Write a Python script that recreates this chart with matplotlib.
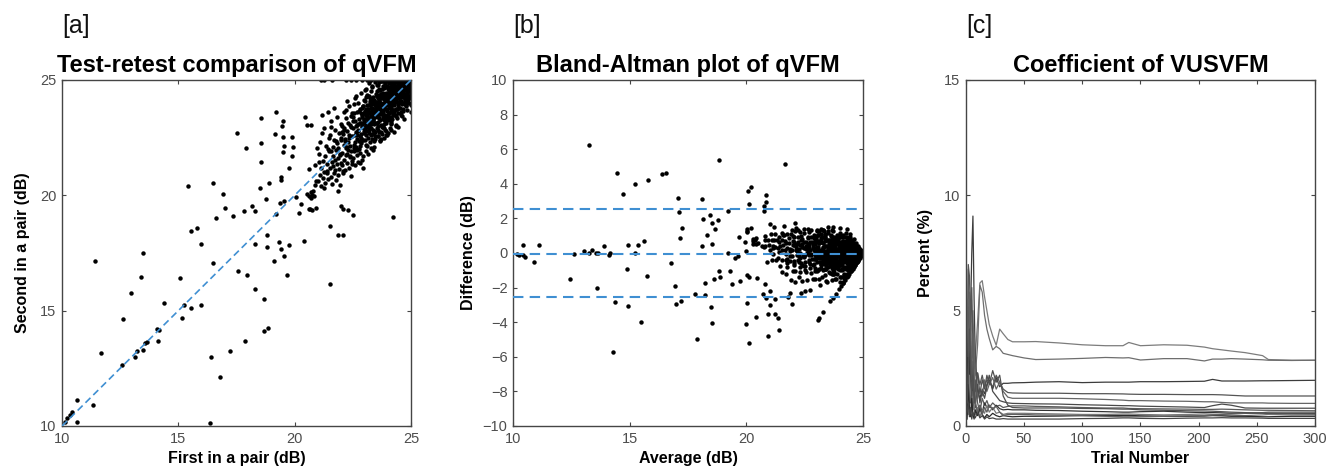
import matplotlib
matplotlib.use("Agg")
import matplotlib.pyplot as plt
import numpy as np

plt.rcParams['font.family'] = ['Liberation Sans', 'DejaVu Sans']

# ---------------- Panel a/b data: (first, second) test-retest pairs in dB ----------------
outlier_first = [
    10.63, 11.35, 11.42, 11.66, 10.63, 10.2, 10.34, 10.13, 10.41, 12.61,
    12.59, 12.95, 13.12, 13.24, 13.38, 13.5, 13.5, 13.57, 13.64, 14.07,
    14.18, 14.11, 14.4, 15.07, 15.14, 15.24, 15.4, 15.56, 15.53, 15.82,
    15.97, 15.97, 16.35, 16.4, 16.48, 16.5, 16.63, 16.77, 16.93, 17.02,
    17.21, 17.36, 17.5, 17.56, 17.87, 17.91, 17.84, 17.95, 18.18, 18.28,
    18.31, 18.31, 18.5, 18.54, 18.57, 18.55, 18.68, 18.68, 18.87, 18.78,
    18.81, 18.81, 18.91, 19.11, 19.15, 19.18, 19.21, 19.34, 19.37, 19.41,
    19.46, 19.48, 19.51, 19.53, 19.51, 19.54, 19.56, 19.43, 19.41, 19.68,
    19.74, 19.74, 19.9, 19.9, 19.94, 20.06, 20.17, 20.27, 20.42, 20.46,
    20.52, 20.63, 20.73, 21.52, 21.52, 21.85, 22.09, 21.99, 22.09, 22.31,
    22.52, 24.21]
outlier_second = [
    11.13, 10.91, 17.15, 13.18, 10.19, 10.33, 10.48, 10.19, 10.62, 14.62,
    12.64, 15.78, 12.98, 13.27, 16.45, 17.49, 13.3, 13.58, 13.66, 14.19,
    14.16, 13.7, 15.35, 16.4, 14.67, 15.25, 20.4, 15.12, 18.47, 18.57,
    15.25, 17.89, 10.12, 13.0, 17.05, 20.55, 19.0, 12.14, 20.04, 19.44,
    13.25, 19.12, 22.69, 16.72, 13.68, 22.04, 19.34, 16.53, 19.55, 19.34,
    17.88, 15.92, 20.3, 23.34, 22.25, 21.46, 15.49, 14.12, 14.26, 19.84,
    17.77, 18.28, 20.52, 17.14, 22.66, 23.63, 19.19, 17.96, 19.65, 17.67,
    23.0, 23.24, 22.54, 22.14, 21.89, 17.37, 19.74, 20.81, 20.66, 16.55,
    17.85, 21.17, 21.7, 22.54, 22.11, 19.94, 19.22, 19.62, 18.0, 23.41,
    23.05, 19.39, 19.36, 18.67, 16.16, 18.28, 18.28, 19.54, 19.39, 19.36,
    19.15, 19.08]

cluster_first = [
    # 20.5 - 21.0
    20.55, 20.62, 20.68, 20.71, 20.75, 20.8, 20.84, 20.88, 20.93, 20.97,
    20.6, 20.72, 20.86, 20.9, 20.66,
    # 21.0 - 21.5
    21.02, 21.05, 21.08, 21.1, 21.12, 21.15, 21.18, 21.2, 21.22, 21.25,
    21.27, 21.3, 21.32, 21.35, 21.37, 21.4, 21.42, 21.45, 21.47, 21.49,
    21.06, 21.16, 21.28, 21.38, 21.44,
    # 21.5 - 22.0
    21.51, 21.53, 21.55, 21.57, 21.58, 21.6, 21.62, 21.63, 21.65, 21.67,
    21.68, 21.7, 21.72, 21.73, 21.75, 21.77, 21.78, 21.8, 21.82, 21.83,
    21.85, 21.87, 21.88, 21.9, 21.92, 21.93, 21.95, 21.97, 21.98, 21.99,
    21.56, 21.66, 21.76, 21.86, 21.96,
    # 22.0 - 22.5
    22.01, 22.02, 22.04, 22.05, 22.07, 22.08, 22.1, 22.11, 22.13, 22.14,
    22.16, 22.17, 22.19, 22.2, 22.22, 22.23, 22.25, 22.26, 22.28, 22.29,
    22.31, 22.32, 22.34, 22.35, 22.37, 22.38, 22.4, 22.41, 22.43, 22.44,
    22.46, 22.47, 22.49, 22.03, 22.09, 22.15, 22.21, 22.27, 22.33, 22.39,
    22.45, 22.12, 22.24, 22.36, 22.48,
    # 22.5 - 23.0
    22.5, 22.51, 22.52, 22.54, 22.55, 22.56, 22.58, 22.59, 22.6, 22.62,
    22.63, 22.64, 22.66, 22.67, 22.68, 22.7, 22.71, 22.72, 22.74, 22.75,
    22.76, 22.78, 22.79, 22.8, 22.82, 22.83, 22.84, 22.86, 22.87, 22.88,
    22.9, 22.91, 22.92, 22.94, 22.95, 22.96, 22.98, 22.99, 22.53, 22.57,
    22.61, 22.65, 22.69, 22.73, 22.77, 22.81, 22.85, 22.89, 22.93, 22.97,
    22.58, 22.66, 22.74, 22.82, 22.9,
    # 23.0 - 23.5
    23.0, 23.01, 23.02, 23.03, 23.04, 23.05, 23.06, 23.07, 23.08, 23.09,
    23.1, 23.11, 23.12, 23.13, 23.14, 23.15, 23.16, 23.17, 23.18, 23.19,
    23.2, 23.21, 23.22, 23.23, 23.24, 23.25, 23.26, 23.27, 23.28, 23.29,
    23.3, 23.31, 23.32, 23.33, 23.34, 23.35, 23.36, 23.37, 23.38, 23.39,
    23.4, 23.41, 23.42, 23.43, 23.44, 23.45, 23.46, 23.47, 23.48, 23.49,
    23.02, 23.06, 23.1, 23.14, 23.18, 23.22, 23.26, 23.3, 23.34, 23.38,
    23.42, 23.46, 23.04, 23.12, 23.2, 23.28, 23.36, 23.44, 23.08, 23.24,
    # 23.5 - 24.0
    23.51, 23.52, 23.54, 23.55, 23.56, 23.58, 23.59, 23.6, 23.62, 23.63,
    23.64, 23.66, 23.67, 23.68, 23.7, 23.71, 23.72, 23.74, 23.75, 23.76,
    23.78, 23.79, 23.8, 23.82, 23.83, 23.84, 23.86, 23.87, 23.88, 23.9,
    23.91, 23.92, 23.94, 23.95, 23.96, 23.98, 23.99, 23.5, 23.53, 23.57,
    23.61, 23.65, 23.69, 23.73, 23.77, 23.81, 23.85, 23.89, 23.93, 23.97,
    23.52, 23.56, 23.6, 23.64, 23.68, 23.72, 23.76, 23.8, 23.84, 23.88,
    23.92, 23.96, 23.54, 23.62, 23.7, 23.78, 23.86, 23.94, 23.58, 23.66,
    23.74, 23.82, 23.9, 23.98, 23.55, 23.71, 23.87, 23.63, 23.79, 23.95,
    # 24.0 - 24.5
    24.01, 24.02, 24.04, 24.05, 24.06, 24.08, 24.09, 24.1, 24.12, 24.13,
    24.14, 24.16, 24.17, 24.18, 24.2, 24.21, 24.22, 24.24, 24.25, 24.26,
    24.28, 24.29, 24.3, 24.32, 24.33, 24.34, 24.36, 24.37, 24.38, 24.4,
    24.41, 24.42, 24.44, 24.45, 24.46, 24.48, 24.49, 24.0, 24.03, 24.07,
    24.11, 24.15, 24.19, 24.23, 24.27, 24.31, 24.35, 24.39, 24.43, 24.47,
    24.02, 24.06, 24.1, 24.14, 24.18, 24.22, 24.26, 24.3, 24.34, 24.38,
    24.42, 24.46, 24.04, 24.12, 24.2, 24.28, 24.36, 24.44, 24.08, 24.16,
    24.24, 24.32, 24.4, 24.48, 24.05, 24.21, 24.37, 24.13, 24.29, 24.45,
    # 24.5 - 25.0
    24.51, 24.52, 24.54, 24.55, 24.56, 24.58, 24.59, 24.6, 24.62, 24.63,
    24.64, 24.66, 24.67, 24.68, 24.7, 24.71, 24.72, 24.74, 24.75, 24.76,
    24.78, 24.79, 24.8, 24.82, 24.83, 24.84, 24.86, 24.87, 24.88, 24.9,
    24.5, 24.53, 24.57, 24.61, 24.65, 24.69, 24.73, 24.77, 24.81, 24.85,
    24.89, 24.92, 24.55, 24.63, 24.71, 24.79, 24.87, 24.94, 24.58, 24.66,
    24.74, 24.82, 24.9, 24.97, 24.6, 24.76, 24.84, 24.68, 24.52, 24.99]
cluster_second = [
    20.05, 19.95, 20.15, 19.88, 20.02, 20.2, 19.98, 21.3, 20.6, 22.05,
    21.15, 23.05, 20.45, 19.45, 19.4,
    20.6, 21.8, 20.9, 22.3, 21.2, 20.4, 23.5, 21.5, 20.75, 22.9,
    21.0, 20.55, 21.7, 22.15, 20.95, 21.35, 23.6, 20.7, 22.5, 21.9,
    21.45, 22.7, 20.3, 21.05, 22.0,
    21.2, 22.6, 20.8, 21.9, 23.2, 21.45, 20.5, 22.1, 21.7, 23.8,
    20.95, 22.4, 21.1, 21.55, 22.85, 20.65, 21.95, 22.25, 21.35, 23.4,
    20.9, 22.05, 21.6, 22.7, 21.15, 21.8, 20.45, 22.5, 23.1, 21.4,
    22.95, 21.25, 22.35, 20.2, 21.75,
    22.4, 21.3, 23.0, 21.85, 22.65, 20.95, 22.2, 23.6, 21.55, 22.9,
    21.1, 22.45, 23.35, 21.75, 22.05, 24.1, 21.4, 22.8, 21.95, 23.15,
    22.3, 21.2, 22.6, 23.85, 21.65, 22.15, 20.85, 22.95, 23.45, 21.9,
    22.55, 21.5, 23.2, 22.75, 21.05, 22.35, 23.7, 21.8, 22.5, 23.05,
    21.35, 22.85, 22.1, 21.7, 23.55,
    22.9, 21.6, 23.4, 22.2, 23.95, 21.9, 22.6, 23.2, 21.3, 22.75,
    24.3, 22.1, 23.6, 21.75, 22.45, 23.05, 22.85, 21.45, 24.0, 22.35,
    23.3, 22.0, 23.75, 22.55, 21.85, 23.15, 22.65, 24.45, 22.25, 23.5,
    21.55, 22.95, 23.85, 22.4, 21.2, 23.25, 22.7, 24.15, 22.05, 23.55,
    22.3, 23.0, 21.95, 22.8, 23.65, 22.15, 22.5, 23.4, 21.7, 22.9,
    24.2, 22.6, 23.1, 21.4, 23.8,
    23.3, 22.4, 24.1, 22.85, 23.6, 21.9, 23.05, 24.6, 22.6, 23.45,
    22.15, 23.9, 22.95, 24.35, 23.2, 22.5, 23.75, 21.8, 24.85, 23.0,
    22.7, 23.55, 24.2, 22.3, 23.35, 25.0, 22.9, 23.8, 22.05, 24.5,
    23.15, 22.65, 23.95, 24.7, 22.45, 23.5, 21.95, 23.25, 24.25, 22.8,
    23.7, 22.35, 24.05, 23.1, 22.55, 24.9, 23.4, 22.75, 23.85, 24.4,
    23.65, 22.2, 24.3, 23.0, 22.9, 24.0, 23.45, 22.6, 24.75, 23.2,
    22.1, 23.9, 24.55, 23.5, 22.85, 24.15, 23.3, 22.45, 23.75, 25.0,
    23.7, 22.9, 24.3, 23.15, 24.8, 22.55, 23.95, 23.4, 24.55, 22.75,
    24.1, 23.55, 25.0, 22.35, 23.85, 24.4, 23.05, 24.95, 22.65, 23.6,
    24.25, 23.3, 22.95, 24.65, 23.75, 24.0, 22.5, 23.45, 24.85, 23.2,
    24.45, 22.8, 23.9, 24.15, 23.35, 25.0, 22.7, 24.05, 23.5, 22.85,
    24.6, 23.25, 24.2, 22.45, 23.8, 24.75, 23.1, 24.35, 22.6, 23.65,
    24.5, 23.0, 23.95, 24.9, 22.4, 23.55, 24.3, 23.4, 22.9, 24.7,
    23.15, 24.05, 24.8, 23.7, 22.75, 24.45, 23.3, 24.0, 22.55, 23.85,
    24.6, 23.5, 22.85, 24.2, 23.9, 24.95, 23.25, 24.35, 23.6, 22.6,
    24.2, 23.45, 24.85, 23.8, 24.5, 22.9, 24.05, 25.0, 23.6, 24.35,
    23.15, 24.7, 23.95, 24.45, 23.3, 24.9, 23.7, 24.15, 22.75, 24.6,
    23.9, 24.3, 25.0, 23.5, 24.75, 23.05, 24.1, 24.55, 23.35, 24.95,
    23.75, 24.25, 22.95, 24.65, 23.55, 24.0, 24.8, 23.25, 24.4, 23.85,
    24.6, 23.4, 24.95, 24.1, 23.65, 24.5, 23.0, 24.3, 24.85, 23.8,
    24.15, 23.55, 24.7, 23.2, 24.45, 24.0, 23.7, 24.9, 23.45, 24.25,
    24.6, 23.9, 24.35, 23.1, 24.75, 23.6, 24.05, 24.5, 23.35, 24.85,
    23.95, 24.4, 23.75, 25.0, 24.2, 23.5, 24.65, 22.85, 24.3, 24.0,
    24.6, 23.8, 24.3, 24.9, 23.5, 24.7, 24.1, 24.45, 23.95, 24.8,
    24.25, 23.65, 24.55, 24.95, 24.0, 24.4, 23.3, 24.75, 24.15, 24.6,
    23.85, 24.35, 24.9, 24.05, 24.5, 23.7, 24.2, 24.65, 24.85, 24.3,
    25.0, 24.1, 24.8, 23.45, 24.55, 24.25, 24.95, 23.9, 24.4, 24.7,
    24.15, 24.6, 23.6, 24.85, 24.35, 24.05, 24.5, 24.75, 25.0, 23.75,
    24.2, 24.45, 24.0, 24.9, 24.65, 23.95, 24.3, 24.55, 25.0, 24.95]

# dense core of near-identical pairs
core_first = [
    22.82, 22.88, 22.95, 23.02, 23.08, 23.15, 23.21, 23.27, 23.33, 23.4,
    23.46, 23.52, 23.58, 23.64, 23.7, 23.76, 23.82, 23.88, 23.94, 24.0,
    24.06, 24.12, 24.18, 24.24, 24.3, 24.36, 24.42, 24.48, 24.54, 24.6,
    24.66, 24.72, 24.78, 24.84, 24.9, 22.85, 22.92, 22.98, 23.05, 23.11,
    23.18, 23.24, 23.3, 23.37, 23.43, 23.49, 23.55, 23.61, 23.67, 23.73,
    23.79, 23.85, 23.91, 23.97, 24.03, 24.09, 24.15, 24.21, 24.27, 24.33,
    24.39, 24.45, 24.51, 24.57, 24.63, 24.69, 24.75, 24.81, 24.87, 24.93,
    22.9, 23.0, 23.1, 23.2, 23.3, 23.4, 23.5, 23.6, 23.7, 23.8,
    23.9, 24.0, 24.1, 24.2, 24.3, 24.4, 24.5, 24.6, 24.7, 24.8,
    23.05, 23.15, 23.25, 23.35, 23.45, 23.55, 23.65, 23.75, 23.85, 23.95,
    24.05, 24.15, 24.25, 24.35, 24.45, 24.55, 24.65, 24.75, 24.85, 24.95,
    23.12, 23.32, 23.52, 23.72, 23.92, 24.12, 24.32, 24.52, 24.72, 24.92,
    23.22, 23.42, 23.62, 23.82, 24.02, 24.22, 24.42, 24.62, 24.82, 23.58,
    23.78, 23.98, 24.18, 24.38, 24.58, 24.78, 23.68, 23.88, 24.08, 24.28,
    24.48, 24.68, 24.88, 23.48, 23.28, 23.08, 24.98, 24.44, 24.14, 23.84]
core_second = [
    23.12, 22.38, 23.85, 23.12, 22.78, 23.75, 24.31, 23.17, 23.73, 22.7,
    23.66, 24.32, 23.18, 24.14, 23.7, 22.96, 24.17, 24.88, 23.74, 24.6,
    23.56, 24.37, 24.88, 24.09, 24.75, 23.76, 24.52, 24.88, 24.24, 24.8,
    24.46, 24.82, 24.33, 24.89, 24.55, 23.55, 23.12, 22.78, 24.25, 23.61,
    23.08, 24.09, 23.6, 22.82, 24.08, 23.54, 24.0, 23.36, 24.57, 23.88,
    24.34, 23.5, 24.11, 24.72, 23.98, 24.59, 23.75, 24.51, 24.87, 24.23,
    24.74, 24.2, 24.66, 24.07, 24.88, 24.59, 24.85, 24.51, 24.87, 24.78,
    23.0, 23.55, 23.35, 23.6, 23.1, 24.15, 23.6, 24.2, 24.0, 23.5,
    24.3, 24.15, 23.9, 24.65, 24.4, 24.7, 24.45, 24.75, 24.9, 24.85,
    23.5, 23.15, 23.9, 23.55, 23.15, 23.9, 23.7, 24.25, 23.95, 23.5,
    24.35, 24.2, 24.75, 24.15, 24.7, 24.65, 24.35, 24.9, 24.75, 24.7,
    23.32, 23.77, 23.42, 24.37, 24.17, 23.82, 24.67, 24.72, 24.67, 24.52,
    23.27, 23.72, 23.77, 23.82, 24.37, 24.37, 24.67, 24.52, 24.87, 23.83,
    23.88, 24.38, 24.23, 24.58, 24.88, 24.88, 23.53, 24.03, 24.68, 24.23,
    24.38, 24.83, 24.68, 23.78, 23.38, 23.48, 24.68, 24.49, 24.39, 24.19]

# pairs where the second measurement sits at the 25 dB ceiling
ceiling_first = [21.15, 21.25, 21.6, 22.2, 22.4, 22.65, 22.9, 23.1, 23.3, 23.45,
                 23.6, 23.8, 24.0, 24.2, 24.4, 24.55, 24.7, 24.85, 24.95, 23.95,
                 24.3, 24.6]
# pairs where the first measurement sits at the 25 dB ceiling
ceiling_second = [23.6, 23.9, 24.2, 24.4, 24.6, 24.8]

# Bland-Altman reference lines (dB)
ba_bias = -0.05
ba_upper = 2.55
ba_lower = -2.55

# ---------------- Panel c data: coefficient (%) vs trial number ----------------
trials = [1, 2, 3, 4, 5, 6, 7, 8, 10, 12, 14, 16, 18, 20, 23, 26, 29, 32, 36, 40, 50,
          60, 80, 100, 120, 135, 140, 150, 170, 190, 205, 212, 220, 228, 240, 255, 260, 280, 300]
cv_a = [2.0, 4.5, 3.0, 5.5, 4.0, 3.2, 2.5, 3.0, 4.5, 6.2, 6.3, 5.6, 5.0, 4.4, 3.9, 3.5, 4.2, 4.0, 3.75, 3.65, 3.65,
        3.66, 3.6, 3.52, 3.48, 3.48, 3.62, 3.48, 3.52, 3.5, 3.42, 3.35, 3.3, 3.25, 3.18, 3.05, 2.88, 2.85, 2.85]
cv_b = [1.0, 6.8, 4.0, 2.5, 3.5, 5.0, 3.0, 2.2, 3.5, 6.1, 5.8, 4.8, 4.2, 3.8, 3.3, 3.45, 3.35, 3.15, 3.1, 3.05, 2.95,
        2.88, 2.9, 2.93, 2.97, 2.95, 2.96, 2.86, 2.92, 2.92, 2.82, 2.9, 2.9, 2.92, 2.9, 2.87, 2.85, 2.84, 2.85]
cv_c = [0.5, 3.0, 1.5, 5.0, 7.5, 9.1, 5.5, 3.0, 1.5, 1.2, 1.6, 1.4, 1.8, 2.0, 1.6, 2.1, 1.7, 1.85, 1.85, 1.87, 1.88,
        1.9, 1.92, 1.88, 1.9, 1.9, 1.9, 1.92, 1.92, 1.93, 1.94, 2.02, 1.95, 1.95, 1.95, 1.96, 1.96, 1.97, 1.98]
cv_d = [2.0, 7.0, 6.5, 4.5, 6.0, 3.5, 2.0, 1.5, 2.3, 1.8, 2.2, 1.7, 2.0, 1.9, 1.7, 2.2, 1.9, 1.6, 1.45, 1.43, 1.42,
        1.42, 1.42, 1.4, 1.4, 1.39, 1.38, 1.37, 1.37, 1.36, 1.36, 1.36, 1.35, 1.33, 1.3, 1.3, 1.3, 1.3, 1.3]
cv_e = [3.5, 5.5, 2.0, 4.0, 2.5, 1.5, 3.8, 2.5, 1.2, 1.6, 1.3, 2.0, 1.5, 1.8, 2.1, 1.6, 1.9, 1.5, 1.25, 1.2, 1.2,
        1.2, 1.2, 1.18, 1.15, 1.12, 1.1, 1.1, 1.08, 1.07, 1.05, 1.05, 1.02, 1.0, 1.0, 1.0, 0.99, 0.98, 0.98]
cv_f = [1.5, 4.0, 5.2, 2.0, 1.0, 2.8, 1.5, 0.8, 1.8, 1.0, 1.5, 1.2, 1.7, 2.2, 1.5, 1.3, 1.1, 1.05, 1.0, 0.98, 0.97,
        0.96, 0.95, 0.92, 0.9, 0.88, 0.88, 0.86, 0.84, 0.82, 0.8, 0.88, 0.95, 0.9, 0.78, 0.77, 0.77, 0.77, 0.77]
cv_g = [0.8, 2.5, 1.0, 3.0, 1.8, 0.9, 1.2, 2.0, 1.0, 0.6, 1.2, 0.9, 1.1, 0.8, 1.0, 0.85, 0.9, 0.8, 0.85, 0.87, 0.87,
        0.85, 0.83, 0.8, 0.78, 0.78, 0.76, 0.75, 0.74, 0.73, 0.72, 0.72, 0.73, 0.72, 0.7, 0.68, 0.68, 0.67, 0.66]
cv_h = [4.5, 1.5, 3.5, 1.0, 2.2, 0.7, 1.8, 1.0, 0.5, 0.9, 0.6, 1.0, 0.8, 0.9, 0.7, 0.9, 0.75, 0.7, 0.72, 0.7, 0.7,
        0.68, 0.67, 0.64, 0.62, 0.6, 0.6, 0.62, 0.64, 0.6, 0.58, 0.58, 0.57, 0.55, 0.55, 0.56, 0.55, 0.55, 0.55]
cv_i = [1.2, 0.5, 2.2, 1.4, 0.6, 1.5, 0.9, 0.5, 0.8, 0.4, 0.7, 0.55, 0.9, 0.6, 0.8, 0.55, 0.6, 0.5, 0.55, 0.55, 0.55,
        0.54, 0.52, 0.5, 0.5, 0.52, 0.52, 0.5, 0.48, 0.5, 0.52, 0.5, 0.48, 0.47, 0.45, 0.48, 0.5, 0.48, 0.48]
cv_j = [0.3, 1.8, 0.8, 0.4, 1.2, 0.5, 0.3, 0.7, 0.45, 0.8, 0.5, 0.35, 0.5, 0.4, 0.55, 0.45, 0.4, 0.45, 0.42, 0.4, 0.42,
        0.42, 0.43, 0.45, 0.45, 0.46, 0.46, 0.44, 0.42, 0.42, 0.43, 0.45, 0.44, 0.42, 0.42, 0.4, 0.4, 0.42, 0.42]
cv_k = [0.6, 1.0, 0.4, 0.8, 0.3, 0.6, 0.45, 0.35, 0.6, 0.35, 0.45, 0.3, 0.4, 0.32, 0.35, 0.3, 0.3, 0.32, 0.3, 0.3, 0.3,
        0.3, 0.3, 0.32, 0.33, 0.35, 0.35, 0.33, 0.32, 0.34, 0.35, 0.35, 0.36, 0.35, 0.35, 0.34, 0.33, 0.33, 0.33]
cv_l = [5.0, 3.0, 5.8, 3.5, 2.0, 4.0, 2.2, 1.0, 0.6, 0.9, 0.5, 0.8, 0.6, 0.9, 0.75, 0.85, 0.6, 0.45, 0.5, 0.5, 0.5,
        0.48, 0.47, 0.45, 0.42, 0.4, 0.4, 0.4, 0.42, 0.44, 0.45, 0.47, 0.5, 0.52, 0.55, 0.58, 0.6, 0.6, 0.6]
cv_m = [1.0, 2.0, 4.2, 2.8, 1.3, 2.2, 1.0, 1.6, 2.3, 1.4, 2.0, 1.6, 2.2, 1.8, 2.4, 1.9, 2.2, 1.3, 0.9, 0.8, 0.78,
        0.78, 0.78, 0.76, 0.75, 0.73, 0.73, 0.7, 0.68, 0.66, 0.65, 0.64, 0.62, 0.6, 0.58, 0.56, 0.55, 0.53, 0.52]
cv_lines = [cv_a, cv_b, cv_c, cv_d, cv_e, cv_f, cv_g, cv_h, cv_i, cv_j, cv_k, cv_l, cv_m]
cv_colors = ['#7c7c7c', '#6e6e6e', '#3c3c3c', '#555555', '#666666', '#4a4a4a', '#5a5a5a',
             '#333333', '#777777', '#2a2a2a', '#444444', '#606060', '#505050']

# ---------------- Assemble ----------------
first_all = np.array(outlier_first + cluster_first + core_first + ceiling_first
                     + [25.0] * len(ceiling_second))
second_all = np.array(outlier_second + cluster_second + core_second
                      + [25.0] * len(ceiling_first) + ceiling_second)
avg_all = (first_all + second_all) / 2.0
diff_all = first_all - second_all

BLUE = '#3f8fd2'
TICK_COLOR = '#4d4d4d'
SPINE_COLOR = '#454545'

fig = plt.figure(figsize=(13.34, 4.74), dpi=100)
ax_a = fig.add_axes([0.0465, 0.1013, 0.2616, 0.7300])
ax_b = fig.add_axes([0.3846, 0.1013, 0.2624, 0.7300])
ax_c = fig.add_axes([0.7241, 0.1013, 0.2616, 0.7300])


def style(ax):
    for s in ax.spines.values():
        s.set_color(SPINE_COLOR)
        s.set_linewidth(1.0)
    ax.tick_params(direction='in', length=3, width=0.8, top=True, right=True,
                   colors=SPINE_COLOR, labelcolor=TICK_COLOR, labelsize=10.5, pad=4)


TITLE_KW = dict(fontsize=17, fontweight='bold', pad=6)
LABEL_KW = dict(fontsize=11.5, fontweight='bold')

# Panel a
ax_a.plot(first_all, second_all, 'o', color='black', ms=3.2, mec='none', zorder=2)
ax_a.plot([10, 25], [10, 25], color=BLUE, lw=1.2, dashes=(4.2, 2.4), zorder=3)
ax_a.set_xlim(10, 25)
ax_a.set_ylim(10, 25)
ax_a.set_xticks([10, 15, 20, 25])
ax_a.set_yticks([10, 15, 20, 25])
style(ax_a)
ax_a.set_title('Test-retest comparison of qVFM', **TITLE_KW)
ax_a.set_xlabel('First in a pair (dB)', labelpad=4, **LABEL_KW)
ax_a.set_ylabel('Second in a pair (dB)', labelpad=7, **LABEL_KW)

# Panel b
ax_b.plot(avg_all, diff_all, 'o', color='black', ms=3.2, mec='none', zorder=2)
for yv in (ba_upper, ba_bias, ba_lower):
    ax_b.plot([10, 25], [yv, yv], color=BLUE, lw=1.5, dashes=(5, 3), zorder=3)
ax_b.set_xlim(10, 25)
ax_b.set_ylim(-10, 10)
ax_b.set_xticks([10, 15, 20, 25])
ax_b.set_yticks(list(range(-10, 11, 2)))
style(ax_b)
ax_b.set_title('Bland-Altman plot of qVFM', **TITLE_KW)
ax_b.set_xlabel('Average (dB)', labelpad=4, **LABEL_KW)
ax_b.set_ylabel('Difference (dB)', labelpad=5, **LABEL_KW)

# Panel c
for vals, col in zip(cv_lines, cv_colors):
    ax_c.plot(trials, vals, color=col, lw=0.9)
ax_c.set_xlim(0, 300)
ax_c.set_ylim(0, 15)
ax_c.set_xticks(list(range(0, 301, 50)))
ax_c.set_yticks([0, 5, 10, 15])
style(ax_c)
ax_c.set_title('Coefficient of VUSVFM', **TITLE_KW)
ax_c.set_xlabel('Trial Number', labelpad=4, **LABEL_KW)
ax_c.set_ylabel('Percent (%)', labelpad=8, **LABEL_KW)

# Panel letters
for ax, lab in ((ax_a, '[a]'), (ax_b, '[b]'), (ax_c, '[c]')):
    x0 = ax.get_position().x0
    fig.text(x0, 0.945, lab, fontsize=18, ha='left', va='center', color='#111111')

fig.savefig('out.png', dpi=100)
